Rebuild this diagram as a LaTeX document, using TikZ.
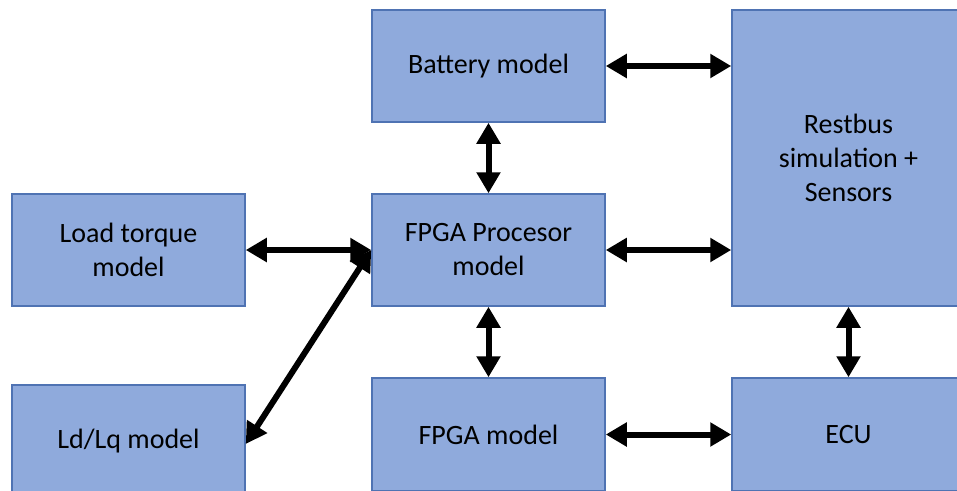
\documentclass[tikz,border=0pt]{standalone}
\usepackage{fontspec}
\setmainfont{Carlito}
\usetikzlibrary{arrows.meta}
\definecolor{boxfill}{HTML}{8FAADC}
\definecolor{boxline}{HTML}{4F73B3}
\begin{document}
\begin{tikzpicture}[x=1pt,y=-1pt,
  blk/.style={draw=boxline, fill=boxfill, line width=1.5pt, rectangle,
    minimum width=233pt, minimum height=112pt, inner sep=0pt,
    align=center, font=\fontsize{28}{34}\selectfont, text=black},
  link/.style={line width=6pt, {Triangle[width=23pt,length=21pt]}-{Triangle[width=23pt,length=21pt]}}]
\useasboundingbox (0,0) rectangle (957,490);
\clip (0,0) rectangle (957,490);
\node[blk] (bat) at (488.5,66) {Battery model};
\node[blk, minimum height=296pt] (rest) at (848.5,158) {Restbus\\simulation +\\Sensors};
\node[blk] (load) at (128.5,250) {Load torque\\model};
\node[blk] (proc) at (488.5,250) {FPGA Procesor\\model};
\node[blk] (ldlq) at (128.5,441) {Ld/Lq model};
\node[blk, minimum height=113pt] (fpga) at (488.5,434.5) {FPGA model};
\node[blk, minimum height=113pt] (ecu) at (848.5,434.5) {ECU};
\draw[link] (bat.east) -- (bat.east -| rest.west);
\draw[link] (proc.east) -- (proc.east -| rest.west);
\draw[link] (bat.south) -- (proc.north);
\draw[link] (proc.south) -- (fpga.north);
\draw[link] (rest.south) -- (ecu.north);
\draw[link] (fpga.east) -- (ecu.west);
\draw[link] (load.east) -- (proc.west);
\draw[link] ([yshift=-3pt]ldlq.east) -- (proc.west);
\end{tikzpicture}
\end{document}
